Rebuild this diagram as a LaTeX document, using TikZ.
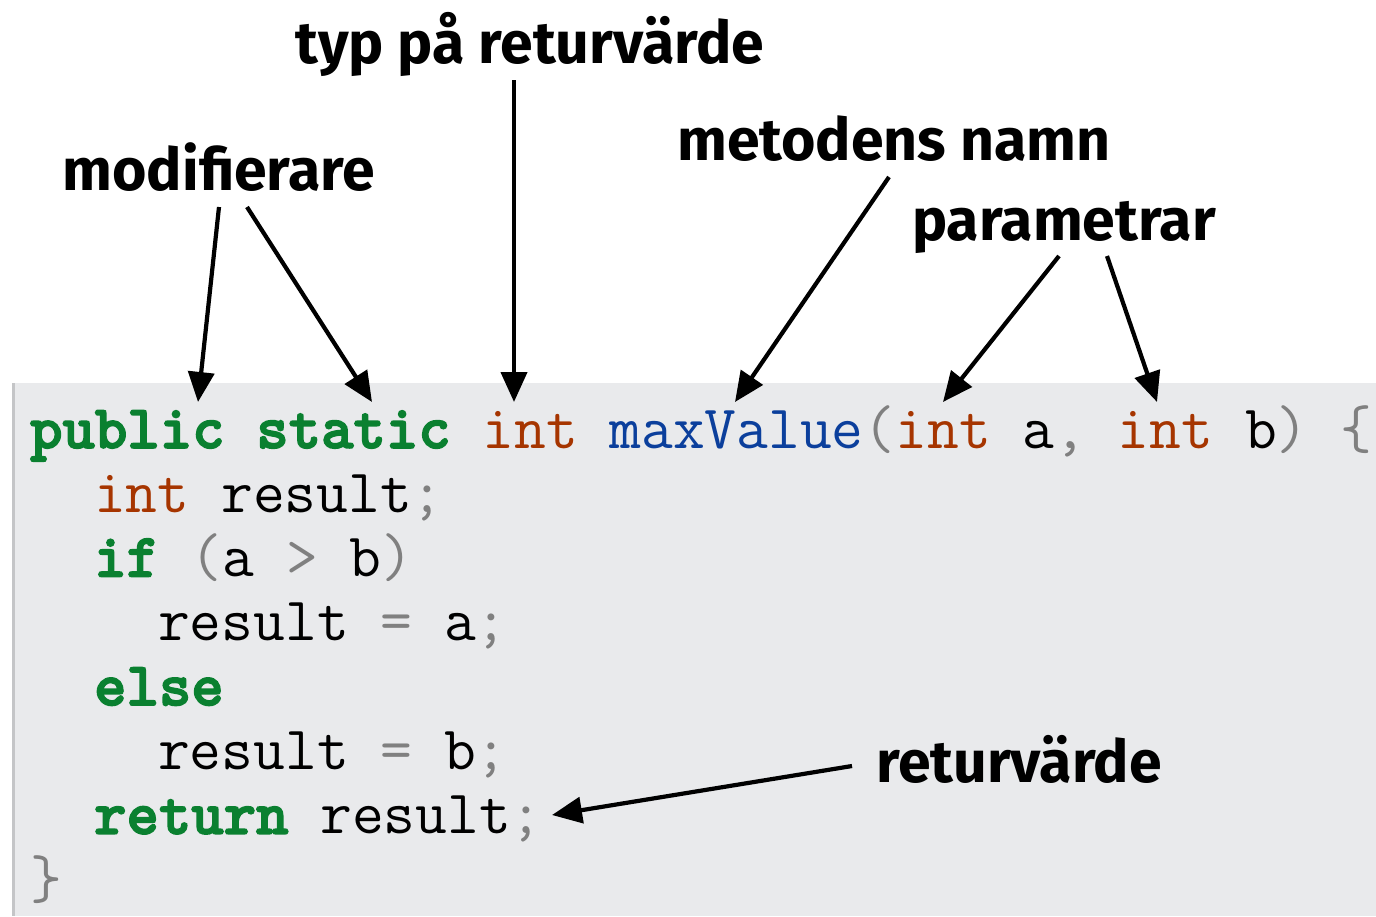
\documentclass[tikz,border=0pt]{standalone}
\usepackage{fontspec}
\setmainfont{Fira Sans}
\IfFontExistsTF{lmmonolt10-bold.otf}
  {\newfontfamily\kwfont{lmmonolt10-bold.otf}[FakeBold=2.5]}
  {\newfontfamily\kwfont{lmmono10-regular.otf}[FakeBold=4]}
\usetikzlibrary{arrows.meta}

\definecolor{codebg}{HTML}{E9EAEC}
\definecolor{kantgra}{HTML}{C4C5C7}
\definecolor{kwgron}{HTML}{0A8030}
\definecolor{typbrun}{HTML}{A63500}
\definecolor{namnbla}{HTML}{0B3F9C}
\definecolor{tecken}{HTML}{808080}

\newcommand{\kw}[1]{\textcolor{kwgron}{\kwfont #1}}
\newcommand{\typ}[1]{\textcolor{typbrun}{#1}}
\newcommand{\namn}[1]{\textcolor{namnbla}{#1}}
\newcommand{\tkn}[1]{\textcolor{tecken}{#1}}

\begin{document}
\begin{tikzpicture}[x=1pt,y=-1pt]
\tikzstyle{every node}+=[inner sep=0pt]
\tikzstyle{kod}=[anchor=base west,font=\ttfamily\fontsize{61.7}{61.7}\selectfont]
\tikzstyle{etikett}=[anchor=base,font=\bfseries\fontsize{59}{59}\selectfont]
\tikzstyle{pil}=[line width=4.2pt,-{Triangle[length=30pt,width=26pt]}]
\useasboundingbox (0,0) rectangle (1376,916);
% kodruta
\fill [codebg] (12,383) rectangle (1376,916);
\draw [kantgra,line width=3pt] (13.5,383) -- (13.5,916);
% kodrader
\node [kod] (rad1) at (30,448) {\kw{public} \kw{static} \typ{int} \namn{maxValue}\tkn{(}\typ{int} a\tkn{,} \typ{int} b\tkn{)} \tkn{\{}};
\node [kod] (rad2) at (94,512.3) {\typ{int} result\tkn{;}};
\node [kod] (rad3) at (94,576.6) {\kw{if} \tkn{(}a \tkn{>} b\tkn{)}};
\node [kod] (rad4) at (158,640.9) {result \tkn{=} a\tkn{;}};
\node [kod] (rad5) at (94,705.2) {\kw{else}};
\node [kod] (rad6) at (158,769.5) {result \tkn{=} b\tkn{;}};
\node [kod] (rad7) at (94,833.8) {\kw{return} result\tkn{;}};
\node [kod] (rad8) at (30,898.1) {\tkn{\}}};
% etiketter
\node [etikett] (modif) at (219,190) {modifierare};
\node [etikett] (returtyp) at (530,63) {typ på returvärde};
\node [etikett] (metnamn) at (894,160) {metodens namn};
\node [etikett] (param) at (1064,240) {parametrar};
\node [etikett] (retur) at (1019,782) {returvärde};
% pilspetsar
\coordinate (public) at (198,402);
\coordinate (static) at (372,402);
\coordinate (int) at (514,402);
\coordinate (maxv) at (735,402);
\coordinate (parama) at (943,402);
\coordinate (paramb) at (1157,402);
\coordinate (result) at (552,815);
% pilar
\draw [pil] ([yshift=-17pt]modif.base) -- (public);
\draw [pil] ([xshift=28pt,yshift=-17pt]modif.base) -- (static);
\draw [pil] ([xshift=-16pt,yshift=-17pt]returtyp.base) -- (int);
\draw [pil] ([xshift=-5pt,yshift=-17pt]metnamn.base) -- (maxv);
\draw [pil] ([xshift=-5pt,yshift=-16pt]param.base) -- (parama);
\draw [pil] ([xshift=43pt,yshift=-16pt]param.base) -- (paramb);
\draw [pil] ([xshift=-167pt,yshift=16pt]retur.base) -- (result);
\end{tikzpicture}
\end{document}
